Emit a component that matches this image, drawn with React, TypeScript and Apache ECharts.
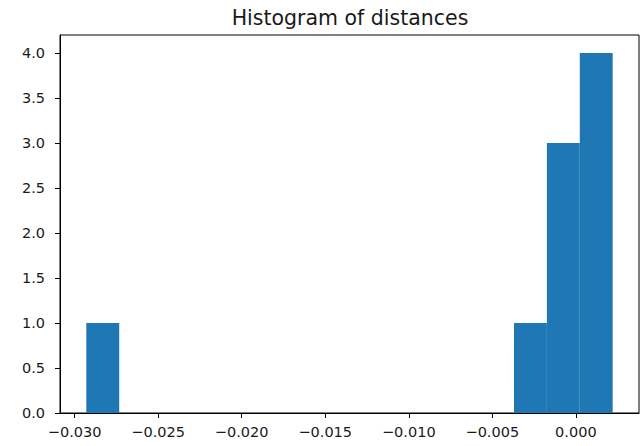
import React, { useEffect, useRef } from "react";
import * as echarts from "echarts";

const titleText = "Histogram of distances";
const binLeft = [-0.0293, -0.003703, -0.001734, 0.000235];
const binRight = [-0.027331, -0.001734, 0.000235, 0.002204];
const counts = [1, 1, 3, 4];
const xTicks = [-0.03, -0.025, -0.02, -0.015, -0.01, -0.005, 0];
const yTicks = [0, 0.5, 1, 1.5, 2, 2.5, 3, 3.5, 4];

const FONT = "DejaVu Sans";
const TXT = "#1a1a1a";

export default function App() {
  const ref = useRef<HTMLDivElement>(null);
  useEffect(() => {
    if (!ref.current) return;
    const chart = echarts.init(ref.current, undefined, { renderer: "svg" });
    const data = counts.map((c, i) => [binLeft[i], binRight[i], c]);
    chart.setOption({
      animation: false,
      backgroundColor: "#ffffff",
      textStyle: { fontFamily: FONT },
      grid: {
        left: 60,
        top: 35,
        width: 579,
        height: 378,
        show: true,
        borderColor: "#000",
        borderWidth: 1,
        backgroundColor: "transparent",
      },
      graphic: [
        {
          type: "text",
          x: 350,
          y: 18,
          style: {
            text: titleText,
            fontFamily: FONT,
            fontSize: 20.5,
            fill: TXT,
            align: "center",
            verticalAlign: "middle",
          },
        },
      ],
      xAxis: {
        type: "value",
        min: -0.030875,
        max: 0.003779,
        splitLine: { show: false },
        axisLine: { show: true, onZero: false, lineStyle: { color: "#000", width: 1 } },
        axisTick: {
          show: true,
          inside: false,
          length: 5,
          customValues: xTicks,
          lineStyle: { color: "#000", width: 1 },
        },
        axisLabel: {
          customValues: xTicks,
          margin: 11,
          fontSize: 14.5,
          fontFamily: FONT,
          color: TXT,
          showMinLabel: true,
          showMaxLabel: true,
          formatter: (v: number) =>
            (v < -1e-12 ? "\u2212" : "") + Math.abs(v).toFixed(3),
        },
      },
      yAxis: {
        type: "value",
        min: 0,
        max: 4.2,
        splitLine: { show: false },
        axisLine: { show: true, onZero: false, lineStyle: { color: "#000", width: 1 } },
        axisTick: {
          show: true,
          inside: false,
          length: 5,
          customValues: yTicks,
          lineStyle: { color: "#000", width: 1 },
        },
        axisLabel: {
          customValues: yTicks,
          margin: 15,
          fontSize: 14.5,
          fontFamily: FONT,
          color: TXT,
          formatter: (v: number) => v.toFixed(1),
        },
      },
      series: [
        {
          type: "custom",
          data,
          renderItem: (params: any, api: any) => {
            const x0 = api.value(0);
            const x1 = api.value(1);
            const h = api.value(2);
            const p0 = api.coord([x0, h]);
            const p1 = api.coord([x1, 0]);
            return {
              type: "rect",
              shape: { x: p0[0], y: p0[1], width: p1[0] - p0[0], height: p1[1] - p0[1] },
              style: { fill: "#1f77b4" },
            };
          },
        },
      ],
    });
    return () => chart.dispose();
  }, []);
  return (
    <div
      ref={ref}
      style={{ position: "fixed", left: 0, top: 0, width: 642, height: 446, background: "#fff" }}
    />
  );
}
